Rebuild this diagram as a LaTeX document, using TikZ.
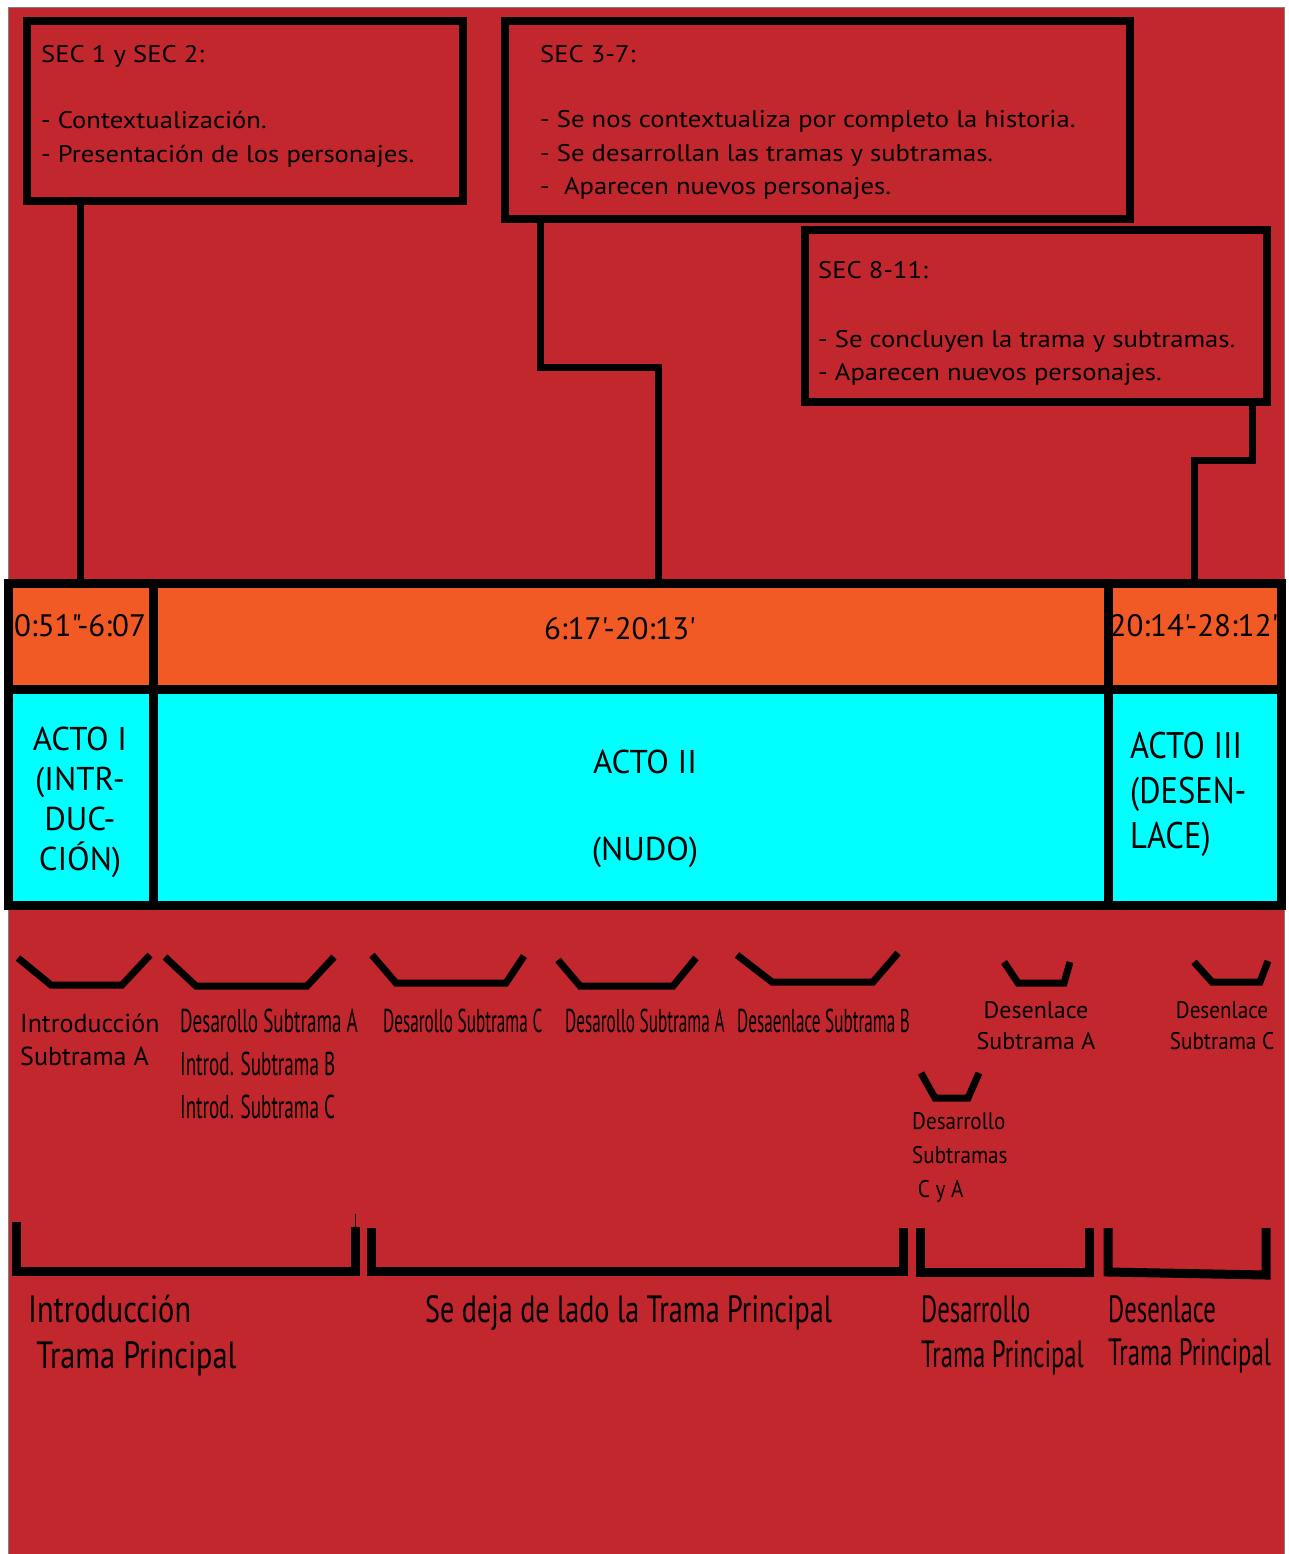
\documentclass[tikz,border=0pt]{standalone}
\usepackage{fontspec}
\setmainfont{PT Sans}
\newfontfamily\ancha[FakeStretch=1.11]{PT Sans}
\newfontfamily\numf[Ligatures=TeXOff]{PT Sans}
\newfontfamily\estrA[FakeStretch=0.88]{PT Sans}
\newfontfamily\estrB[FakeStretch=0.8]{PT Sans}
\newfontfamily\estrC[FakeStretch=0.74]{PT Sans}
\newfontfamily\estrD[FakeStretch=0.65]{PT Sans}
\newfontfamily\estrF[FakeStretch=0.58]{PT Sans}
\newfontfamily\estrE[FakeStretch=0.52]{PT Sans}

\definecolor{fondo}{HTML}{C1272D}
\definecolor{naranja}{HTML}{F15A24}
\definecolor{celeste}{HTML}{00FFFF}

\tikzset{
    secbox/.style={draw=black, line width=8pt, fill=fondo, inner sep=0pt, outer sep=0pt, anchor=north west},
    banda/.style={draw=black, line width=9pt, fill=naranja, inner sep=0pt, outer sep=0pt, anchor=north west},
    acto/.style={draw=black, line width=9pt, fill=celeste, inner sep=0pt, outer sep=0pt, anchor=north west},
    link/.style={line width=7pt, line join=miter},
    cuna/.style={line width=7pt, line join=miter},
    llave/.style={line width=9pt, line join=miter},
    txt/.style={inner sep=0pt, anchor=base west, align=left},
    ctxt/.style={inner sep=0pt, anchor=base, align=center},
}

\begin{document}
\begin{tikzpicture}[x=1pt,y=-1pt]
    \useasboundingbox (0,0) rectangle (1288,1554);
    \fill[fondo] (8,8) rectangle (1284,1554);
    \draw[gray, line width=1pt] (8,1554) -- (8,8) -- (1284,8) -- (1284,1554);

    % cuadros de secuencias (el texto se ubica por su ultima linea)
    \node[secbox, minimum width=436, minimum height=180] (sec1) at (27,21) {};
    \node[secbox, minimum width=625, minimum height=198] (sec2) at (505,21) {};
    \node[secbox, minimum width=462, minimum height=172] (sec3) at (805,230) {};

    \node[txt, font=\ancha\fontsize{24}{34}\selectfont] (sec1txt) at (41,163)
        {SEC 1 y SEC 2:\\[32pt]- Contextualización.\\- Presentación de los personajes.};
    \node[txt, font=\ancha\fontsize{24}{33.5}\selectfont] (sec2txt) at (540,195)
        {SEC 3-7:\\[32pt]- Se nos contextualiza por completo la historia.\\- Se desarrollan las tramas y subtramas.\\-\ \ Aparecen nuevos personajes.};
    \node[txt, font=\ancha\fontsize{24}{33}\selectfont] (sec3txt) at (818,380)
        {SEC 8-11:\\[36pt]- Se concluyen la trama y subtramas.\\- Aparecen nuevos personajes.};

    % linea de tiempo
    \node[banda, minimum width=145, minimum height=106] (tim1) at (8,583) {};
    \node[banda, minimum width=955, minimum height=106] (tim2) at (153,583) {};
    \node[banda, minimum width=173, minimum height=106] (tim3) at (1108,583) {};
    \node[acto, minimum width=145, minimum height=216] (act1) at (8,689) {};
    \node[acto, minimum width=955, minimum height=216] (act2) at (153,689) {};
    \node[acto, minimum width=173, minimum height=216] (act3) at (1108,689) {};

    \node[ctxt, font=\numf\fontsize{31}{32}\selectfont] (hora1) at (80,636) {0:51"-6:07};
    \node[ctxt, font=\numf\fontsize{31}{32}\selectfont] (hora2) at (620,639) {6:17'-20:13'};
    \node[ctxt, font=\numf\fontsize{31}{32}\selectfont] (hora3) at (1194,636) {20:14'-28:12'};

    \node[ctxt, font=\fontsize{33}{40}\selectfont] (acto1txt) at (80,870)
        {ACTO I\\(INTR-\\DUC-\\CIÓN)};
    \node[ctxt, font=\fontsize{33}{40}\selectfont] (acto2txt) at (645,860)
        {ACTO II\\[47pt](NUDO)};
    \node[txt, font=\estrA\fontsize{37}{45}\selectfont] (acto3txt) at (1130,848)
        {ACTO III\\(DESEN-\\LACE)};

    % conectores
    \draw[link] (sec1.south -| tim1.north) -- (tim1.north);
    \coordinate (codo2) at (658,367);
    \draw[link] (sec2.south -| 540,0) |- (codo2) -- (codo2 |- tim2.north);
    \coordinate (codo3) at (1252,460);
    \draw[link] (sec3.south -| codo3) -- (codo3) -| (tim3.north);

    % subtramas
    \draw[cuna] (18,958) -- (51,985) -- (122,985) -- (150,955);
    \draw[cuna] (165,957) -- (196,986) -- (307,986) -- (334,957);
    \draw[cuna] (372,955) -- (396,983) -- (506,983) -- (524,956);
    \draw[cuna] (558,960) -- (580,986) -- (673,986) -- (696,958);
    \draw[cuna] (737,955) -- (772,982) -- (873,982) -- (898,953);
    \draw[cuna] (1004,962) -- (1018,983) -- (1064,983) -- (1070,962);
    \draw[cuna] (1194,962) -- (1212,982) -- (1260,982) -- (1268,961);
    \draw[cuna] (921,1073) -- (935,1098) -- (968,1098) -- (979,1073);

    \node[txt, font=\fontsize{26}{33}\selectfont] (sub1) at (20,1065) {Introducción\\Subtrama A};
    \node[txt, font=\estrF\fontsize{33}{43}\selectfont] (sub2) at (180,1118)
        {Desarollo Subtrama A\\Introd. Subtrama B\\Introd. Subtrama C};
    \node[txt, font=\estrE\fontsize{33}{43}\selectfont] (sub3) at (383,1032) {Desarollo Subtrama C};
    \node[txt, font=\estrE\fontsize{33}{43}\selectfont] (sub4) at (565,1032) {Desarollo Subtrama A};
    \node[txt, font=\estrE\fontsize{33}{43}\selectfont] (sub5) at (737,1032) {Desaenlace Subtrama B};
    \node[ctxt, font=\fontsize{24}{31}\selectfont] (sub6) at (1036,1049) {Desenlace\\Subtrama A};
    \node[ctxt, font=\estrA\fontsize{24}{31}\selectfont] (sub7) at (1222,1049) {Desenlace\\Subtrama C};
    \node[txt, font=\estrA\fontsize{24}{34}\selectfont] (sub8) at (912,1197)
        {Desarrollo\\Subtramas\\\ C y A};

    % trama principal
    \draw[llave] (16,1222) -- (16,1271) -- (355,1271) -- (355,1227);
    \draw[line width=1pt] (355,1227) -- (355,1214);
    \draw[llave] (371,1228) -- (371,1271) -- (903,1271) -- (903,1228);
    \draw[llave] (920,1228) -- (920,1272) -- (1089,1272) -- (1089,1228);
    \draw[llave] (1108,1228) -- (1108,1272) -- (1266,1275) -- (1266,1228);

    \node[txt, font=\estrB\fontsize{38}{46}\selectfont] (tp1) at (28,1368) {Introducción\\\ Trama Principal};
    \node[txt, font=\estrC\fontsize{38}{46}\selectfont] (tp2) at (425,1322) {Se deja de lado la Trama Principal};
    \node[txt, font=\estrD\fontsize{38}{45}\selectfont] (tp3) at (921,1367) {Desarrollo\\Trama Principal};
    \node[txt, font=\estrD\fontsize{38}{43}\selectfont] (tp4) at (1108,1365) {Desenlace\\Trama Principal};
\end{tikzpicture}
\end{document}
